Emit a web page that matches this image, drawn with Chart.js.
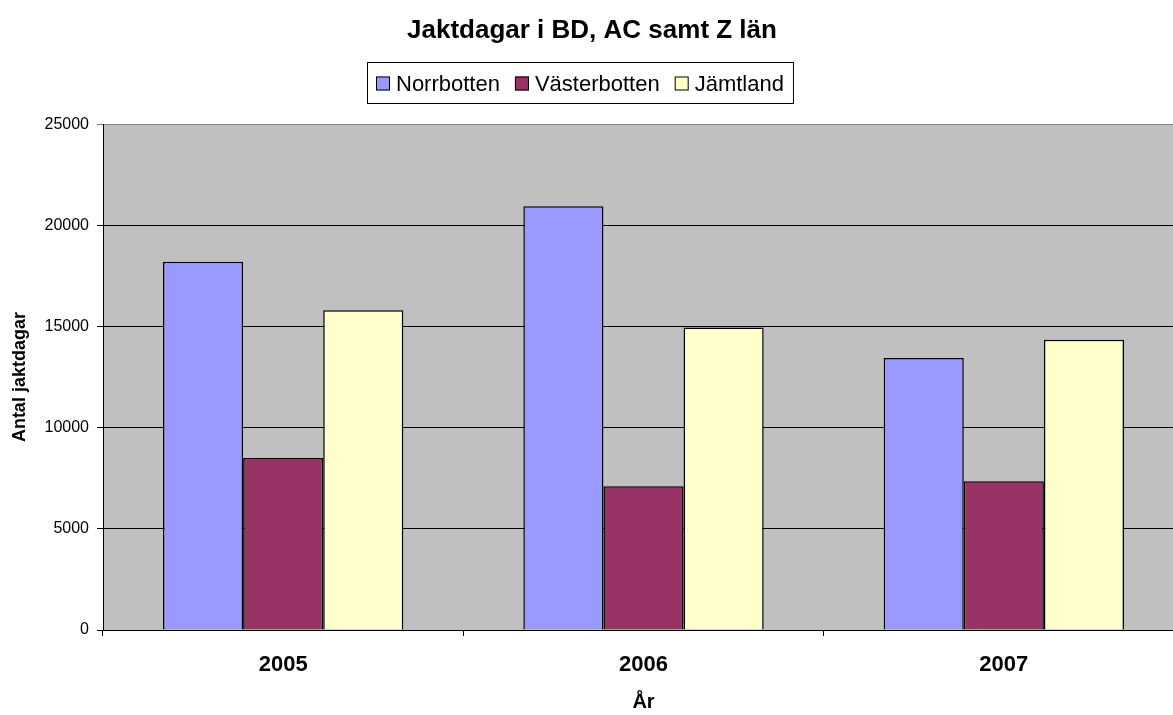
<!DOCTYPE html>
<html>
<head>
<meta charset="utf-8">
<script src="https://cdn.jsdelivr.net/npm/chart.js@4.4.0/dist/chart.umd.min.js"></script>
<style>
  html, body { margin: 0; padding: 0; background: #fff; overflow: hidden; }
</style>
</head>
<body>
<canvas id="chart" width="1190" height="715"></canvas>
<script>
const years = ["2005", "2006", "2007"];
const seriesNames = ["Norrbotten", "Västerbotten", "Jämtland"];
const norrbotten = [18200, 20950, 13450];
const vasterbotten = [8500, 7100, 7350];
const jamtland = [15800, 14950, 14350];
const seriesColors = ["#9999FF", "#993366", "#FFFFCC"];

const FONT = "'Liberation Sans', Arial, sans-serif";

// grey plot background like the old Excel charts
const plotBg = {
    id: "plotBg",
    beforeDraw(chart) {
        const { ctx, chartArea: a } = chart;
        ctx.save();
        ctx.fillStyle = "#C0C0C0";
        ctx.fillRect(a.left, a.top, a.right - a.left, a.bottom - a.top);
        ctx.restore();
    }
};

// boxed legend, drawn by hand so the spacing matches
const boxLegend = {
    id: "boxLegend",
    afterDraw(chart) {
        const ctx = chart.ctx;
        ctx.save();
        ctx.font = "22px " + FONT;
        const box = 14, gapText = 6, gapItem = 15, pad = 9;
        const items = chart.data.datasets.map(ds => ({
            label: ds.label, color: ds.backgroundColor, w: ctx.measureText(ds.label).width
        }));
        let total = pad * 2 - gapItem;
        items.forEach(it => total += box + gapText + it.w + gapItem);
        const left = Math.round(580 - total / 2), top = 62, h = 41;
        ctx.fillStyle = "#fff";
        ctx.fillRect(left, top, total, h);
        ctx.strokeStyle = "#000";
        ctx.lineWidth = 1;
        ctx.strokeRect(left + 0.5, top + 0.5, total, h);
        let x = left + pad;
        const cy = top + h / 2 + 1;
        items.forEach(it => {
            ctx.fillStyle = it.color;
            ctx.fillRect(x, cy - box / 2, box, box);
            ctx.strokeRect(x + 0.5, cy - box / 2 + 0.5, box - 1, box - 1);
            ctx.fillStyle = "#000";
            ctx.textBaseline = "middle";
            ctx.fillText(it.label, x + box + gapText, cy + 1);
            x += box + gapText + it.w + gapItem;
        });
        ctx.restore();
    }
};

const ctx = document.getElementById("chart").getContext("2d");
new Chart(ctx, {
    type: "bar",
    data: {
        labels: years,
        datasets: [
            { label: seriesNames[0], data: norrbotten, backgroundColor: seriesColors[0] },
            { label: seriesNames[1], data: vasterbotten, backgroundColor: seriesColors[1] },
            { label: seriesNames[2], data: jamtland, backgroundColor: seriesColors[2] }
        ]
    },
    options: {
        responsive: false,
        animation: false,
        layout: { padding: { top: 8, right: 6, bottom: 0, left: 0 } },
        datasets: {
            bar: {
                categoryPercentage: 0.667,
                barPercentage: 1,
                borderColor: "#000",
                borderWidth: 1.5
            }
        },
        plugins: {
            legend: { display: false },
            tooltip: { enabled: false },
            title: {
                display: true,
                text: "Jaktdagar i BD, AC samt Z län",
                color: "#000",
                font: { family: FONT, size: 26, weight: "bold" },
                padding: { top: 7, bottom: 78 }
            }
        },
        scales: {
            x: {
                afterFit: s => { s.height = 85; },
                grid: { offset: true, drawOnChartArea: false, tickLength: 6, color: "#000" },
                border: { color: "#000" },
                ticks: { color: "#000", padding: 16, font: { family: FONT, size: 22, weight: "bold" } },
                title: {
                    display: true, text: "År", color: "#000",
                    font: { family: FONT, size: 20, weight: "bold" },
                    padding: { top: 0, bottom: 1 }
                }
            },
            y: {
                min: 0,
                max: 25000,
                afterFit: s => { s.width = 103; },
                grid: {
                    tickLength: 6,
                    color: c => (c.tick && c.tick.value === 25000 ? "#808080" : "#000")
                },
                border: { color: "#000" },
                ticks: {
                    stepSize: 5000, color: "#000", padding: 8,
                    font: { family: FONT, size: 16 },
                    callback: v => String(v)
                },
                title: {
                    display: true, text: "Antal jaktdagar", color: "#000",
                    font: { family: FONT, size: 18, weight: "bold" },
                    padding: { top: 9, bottom: 0 }
                }
            }
        }
    },
    plugins: [plotBg, boxLegend]
});
</script>
</body>
</html>
